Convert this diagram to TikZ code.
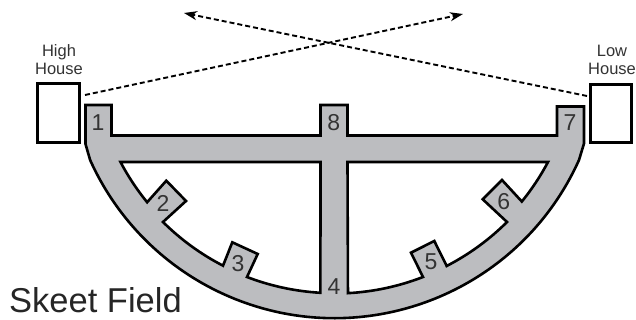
\documentclass[tikz,border=0pt]{standalone}
\usepackage{fontspec}
\setmainfont{Liberation Sans}
\usetikzlibrary{arrows.meta}
\definecolor{fieldgray}{HTML}{BCBDC0}
\definecolor{labelgray}{HTML}{333333}

\begin{document}
\begin{tikzpicture}[
  x=1pt, y=1pt,
  house/.style={draw, line width=3pt, fill=white, inner sep=0pt, minimum width=42pt, minimum height=59pt},
  houselabel/.style={align=center, inner sep=0pt, text=labelgray, font=\fontsize{16.5}{18}\selectfont},
  station/.style={inner sep=0pt, text=labelgray, font=\fontsize{23}{25}\selectfont},
  walk/.style={draw=black, line width=2.6pt, fill=fieldgray, miter limit=10},
  hole/.style={draw=black, line width=2.6pt, fill=white, miter limit=10},
  flight/.style={line width=1.9pt, dash pattern=on 5pt off 3pt, -{Stealth[length=13pt, width=9pt, inset=4pt]}}
]
  \useasboundingbox (0,0) rectangle (636,320);

  \node[house] (highhouse) at (58.5,207) {};
  \node[house, minimum width=41pt, minimum height=58pt] (lowhouse) at (611,206.5) {};
  \node[houselabel] (highlabel) at (59,260) {High\\House};
  \node[houselabel] (lowlabel) at (612,260) {Low\\House};

  % outer walk, then the two open areas on top of it
  \draw[walk] (85.5,215) -- (111.5,215) -- (111.5,184.5) -- (320.5,184.5) -- (320.5,215)
    -- (347.5,215) -- (347.5,184.5) -- (557,184.5) -- (557,213.5) -- (584,213.5) -- (584,176.5)
    -- (579,160) arc[start angle=-24.2, end angle=-155.8, radius=268pt] -- (85.5,176) -- cycle;
  \draw[hole] (320.5,158) -- (120.5,158) arc[start angle=207.8, end angle=219.2, radius=243pt]
    -- (166.3,139.3) -- (186,119) -- (163,98) arc[start angle=225.2, end angle=242.7, radius=244pt]
    -- (232.3,77.7) -- (257.7,66) -- (247,43) arc[start angle=249, end angle=266.7, radius=244pt] -- cycle;
  \draw[hole] (347.5,158) -- (548,158) arc[start angle=-27.9, end angle=-39.1, radius=243pt]
    -- (502,140) -- (482.7,120.7) -- (507,98) arc[start angle=-45.1, end angle=-62.7, radius=244pt]
    -- (434.3,79) -- (411,67.3) -- (423,43) arc[start angle=-68.8, end angle=-86.9, radius=244pt] -- cycle;

  \node[station] (st1) at (98,197) {1};
  \node[station] (st2) at (163,117) {2};
  \node[station] (st3) at (238,56) {3};
  \node[station] (st4) at (334,33) {4};
  \node[station] (st5) at (431,58) {5};
  \node[station] (st6) at (503.7,118) {6};
  \node[station] (st7) at (570,197) {7};
  \node[station] (st8) at (333.7,197) {8};

  \coordinate (highstart) at (85,225);
  \coordinate (highend) at (463,306);
  \coordinate (lowstart) at (587,224);
  \coordinate (lowend) at (184,307);
  \draw[flight] (highstart) -- (highend);
  \draw[flight] (lowstart) -- (lowend);

  \node[anchor=west, inner sep=0pt, text=black!85, font=\fontsize{34.5}{36}\selectfont] (title) at (9,20) {Skeet Field};
\end{tikzpicture}
\end{document}
